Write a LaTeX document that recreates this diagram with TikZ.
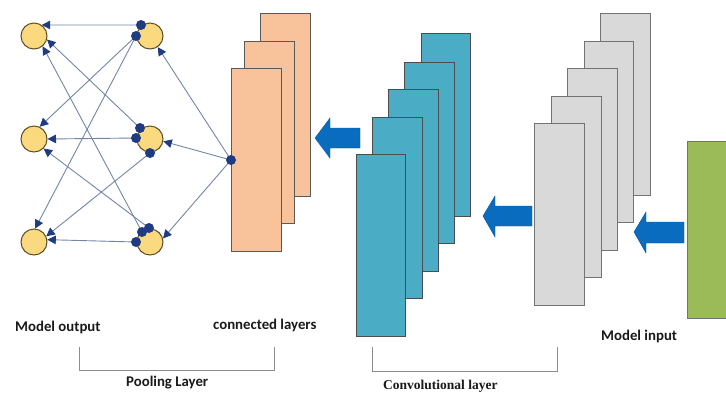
\documentclass[tikz,border=0pt]{standalone}
\usepackage{fontspec}
\setmainfont{Carlito}
\newfontfamily\timesf{Liberation Serif}
\usetikzlibrary{arrows.meta}
\definecolor{circfill}{HTML}{FBD97E}
\definecolor{circdraw}{HTML}{5E4E26}
\definecolor{dotc}{HTML}{1F3C80}
\definecolor{linec}{HTML}{7486A6}
\definecolor{orangef}{HTML}{F8C39B}
\definecolor{tealf}{HTML}{4BACC6}
\definecolor{grayf}{HTML}{D9D9D9}
\definecolor{greenf}{HTML}{9BBB59}
\definecolor{arrowf}{HTML}{0A6CBF}
\definecolor{bracketc}{HTML}{8C8C8C}
\definecolor{textc}{HTML}{1A1A1A}
\tikzset{
  neuron/.style={circle, draw=circdraw, fill=circfill, line width=1pt, minimum size=26pt, inner sep=0pt},
  dot/.style={circle, fill=dotc, minimum size=10pt, inner sep=0pt},
  conn/.style={draw=linec, line width=0.9pt, -{Triangle[length=8.5pt,width=8.5pt,color=dotc]}},
  orangebox/.style={draw=black!65, fill=orangef, line width=0.8pt},
  tealbox/.style={draw=black!70, fill=tealf, line width=0.8pt},
  graybox/.style={draw=black!55, fill=grayf, line width=0.8pt},
  greenbox/.style={draw=black!55, fill=greenf, line width=0.8pt},
  fatarrow/.style={fill=arrowf, draw=arrowf!80!black, line width=0.4pt},
  bracket/.style={draw=bracketc, line width=1pt},
  lbl/.style={font=\fontsize{14.8}{16}\selectfont\bfseries, text=textc, inner sep=0pt},
  lblserif/.style={font=\timesf\fontsize{13.5}{15}\selectfont\bfseries, text=textc, inner sep=0pt}
}
\begin{document}
\begin{tikzpicture}[x=1pt,y=-1pt]
\useasboundingbox[fill=white] (0,0) rectangle (726,392);

% neurons
\node[neuron] (L1) at (34,36) {};
\node[neuron] (L2) at (34,139) {};
\node[neuron] (L3) at (34,242) {};
\node[neuron] (R1) at (150,36) {};
\node[neuron] (R2) at (150,139) {};
\node[neuron] (R3) at (150,242) {};

% dots positions
\coordinate (r1a) at (141,25);
\coordinate (r1b) at (136,36);
\coordinate (r2a) at (140,128);
\coordinate (r2b) at (136,138);
\coordinate (r2c) at (150,153);
\coordinate (r3a) at (142,232);
\coordinate (r3b) at (149,228);
\coordinate (r3c) at (136,242);

% orange layers
\draw[orangebox] (260,13) rectangle (310,196);
\draw[orangebox] (244,41) rectangle (294,223);
\draw[orangebox] (231,68) rectangle (281,251);
\coordinate (hubc) at (231,160);

% connectors
\draw[conn] (r1a) -- (L1.55);
\draw[conn] (r1b) -- (L2.65);
\draw[conn] (r1b) -- (L3.85);
\draw[conn] (r2a) -- (L1.-15);
\draw[conn] (r2b) -- (L2.east);
\draw[conn] (r2c) -- (L3.25);
\draw[conn] (r3a) -- (L1.-50);
\draw[conn] (r3b) -- (L2.-45);
\draw[conn] (r3c) -- (L3.10);
\draw[conn] (hubc) -- (R1.-55);
\draw[conn] (hubc) -- (R2.-10);
\draw[conn] (hubc) -- (R3.15);

% dots
\foreach \p in {r1a,r1b,r2a,r2b,r2c,r3a,r3b,r3c}
  \node[dot] (n\p) at (\p) {};
\node[dot] (hub) at (hubc) {};

% teal layers
\draw[tealbox] (421,33) rectangle (470,216);
\draw[tealbox] (404,62) rectangle (454,243);
\draw[tealbox] (388,89) rectangle (438,271);
\draw[tealbox] (372,117) rectangle (422,298);
\draw[tealbox] (356,154) rectangle (405,336);

% gray layers
\draw[graybox] (600,13) rectangle (650,195);
\draw[graybox] (584,41) rectangle (633,222);
\draw[graybox] (567,68) rectangle (617,250);
\draw[graybox] (551,96) rectangle (601,277);
\draw[graybox] (534,123) rectangle (584,305);

% green input
\draw[greenbox] (687,141) rectangle (740,318);

% fat arrows
\draw[fatarrow] (315,138) -- (330,118) -- (330,128) -- (360,128) -- (360,148) -- (330,148) -- (330,158) -- cycle;
\draw[fatarrow] (483,216) -- (495,196) -- (495,206) -- (532,206) -- (532,226) -- (495,226) -- (495,237) -- cycle;
\draw[fatarrow] (634,232) -- (646,212) -- (646,222) -- (684,222) -- (684,243) -- (646,243) -- (646,253) -- cycle;

% brackets
\draw[bracket] (79,347) -- (79,370) -- (274,370) -- (274,347);
\draw[bracket] (372,347) -- (372,371) -- (557,371) -- (557,347);

% labels
\node[lbl, anchor=west] (t1) at (15,327) {Model output};
\node[lbl, anchor=west] (t2) at (213,325) {connected layers};
\node[lbl, anchor=west] (t3) at (126,383) {Pooling Layer};
\node[lblserif, anchor=west] (t4) at (383,386) {Convolutional layer};
\node[lbl, anchor=west] (t5) at (601,336) {Model input};
\end{tikzpicture}
\end{document}
